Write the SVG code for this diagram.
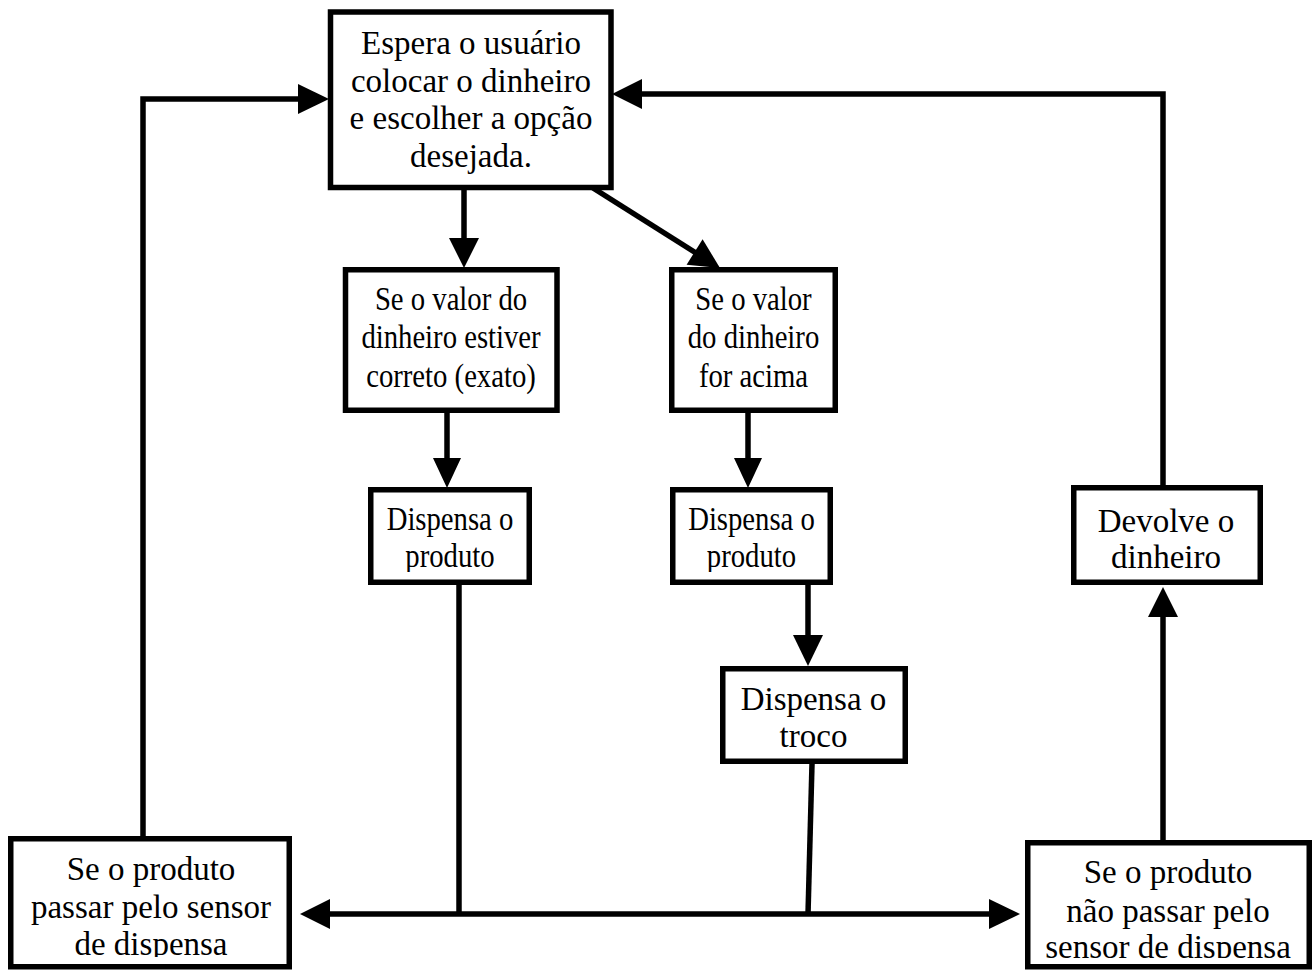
<svg xmlns="http://www.w3.org/2000/svg" width="1313" height="970" viewBox="0 0 1313 970">
<style>
.box{fill:#fff;stroke:#000;stroke-width:5.5}
.t{font-family:"Liberation Serif","Times New Roman",serif;font-size:33px;fill:#000;text-anchor:middle}
.ln{fill:none;stroke:#000;stroke-width:5.5;stroke-linejoin:miter;stroke-linecap:butt}
.ah{fill:#000;stroke:none}
</style>
<defs>
<clipPath id="cDL"><rect x="374" y="493" width="152" height="79"/></clipPath>
<clipPath id="cDR"><rect x="673" y="493" width="157" height="79"/></clipPath>
<clipPath id="cBL"><rect x="11" y="842" width="278" height="115"/></clipPath>
<clipPath id="cBR"><rect x="1031" y="843" width="276" height="115"/></clipPath>
</defs>
<rect width="1313" height="970" fill="#fff"/>
<g id="connectors">
<polyline class="ln" points="143,836 143,99 300,99"/>
<polygon class="ah" points="329,99 298,84 298,114"/>
<polyline class="ln" points="1163,485 1163,94 640,94"/>
<polygon class="ah" points="612,94 642,79 642,109"/>
<line class="ln" x1="464" y1="190" x2="464" y2="240"/>
<polygon class="ah" points="464,268 449,238 479,238"/>
<line class="ln" x1="593" y1="188" x2="696" y2="253"/>
<polygon class="ah" points="720,268 686.6,264.7 702.6,239.3"/>
<line class="ln" x1="447" y1="413" x2="447" y2="460"/>
<polygon class="ah" points="447,488 433,458 461,458"/>
<line class="ln" x1="748" y1="413" x2="748" y2="460"/>
<polygon class="ah" points="748,488 734,458 762,458"/>
<line class="ln" x1="808" y1="585" x2="808" y2="637"/>
<polygon class="ah" points="808,666 793,635 823,635"/>
<line class="ln" x1="459" y1="585" x2="459" y2="914"/>
<line class="ln" x1="812" y1="764" x2="808" y2="914"/>
<line class="ln" x1="328" y1="914" x2="991" y2="914"/>
<polygon class="ah" points="300,914 330,899 330,929"/>
<polygon class="ah" points="1020,914 989,899 989,929"/>
<line class="ln" x1="1163" y1="840" x2="1163" y2="615"/>
<polygon class="ah" points="1163,587 1148,617 1178,617"/>
</g>
<g id="n-espera">
<rect class="box" x="330.5" y="12" width="280.5" height="175.5"/>
<text class="t" x="471" y="54">Espera o usuário</text>
<text class="t" x="471" y="91.5">colocar o dinheiro</text>
<text class="t" x="471" y="129">e escolher a opção</text>
<text class="t" x="471" y="166.5">desejada.</text>
</g>
<g id="n-exato">
<rect class="box" x="345.5" y="269.75" width="211.5" height="140.5"/>
<g transform="translate(451,0) scale(0.87,1)">
<text class="t" x="0" y="310">Se o valor do</text>
<text class="t" x="0" y="348.5">dinheiro estiver</text>
<text class="t" x="0" y="387">correto (exato)</text>
</g>
</g>
<g id="n-acima">
<rect class="box" x="671.75" y="269.75" width="163.5" height="140.5"/>
<g transform="translate(753.5,0) scale(0.87,1)">
<text class="t" x="0" y="310">Se o valor</text>
<text class="t" x="0" y="348.5">do dinheiro</text>
<text class="t" x="0" y="387">for acima</text>
</g>
</g>
<g id="n-dispensa1">
<rect class="box" x="370.75" y="489.75" width="158.5" height="92.5"/>
<g clip-path="url(#cDL)">
<g transform="translate(450,0) scale(0.87,1)">
<text class="t" x="0" y="530">Dispensa o</text>
<text class="t" x="0" y="567">produto</text>
</g>
</g>
</g>
<g id="n-dispensa2">
<rect class="box" x="672.75" y="489.75" width="157.5" height="92.5"/>
<g clip-path="url(#cDR)">
<g transform="translate(751.5,0) scale(0.87,1)">
<text class="t" x="0" y="530">Dispensa o</text>
<text class="t" x="0" y="567">produto</text>
</g>
</g>
</g>
<g id="n-troco">
<rect class="box" x="722.75" y="668.75" width="182.5" height="92.5"/>
<text class="t" x="813.5" y="710">Dispensa o</text>
<text class="t" x="813.5" y="747">troco</text>
</g>
<g id="n-devolve">
<rect class="box" x="1073.75" y="487.75" width="186.5" height="94.5"/>
<text class="t" x="1166" y="532">Devolve o</text>
<text class="t" x="1166" y="568">dinheiro</text>
</g>
<g id="n-passou">
<rect class="box" x="10.75" y="838.75" width="278.5" height="128"/>
<g clip-path="url(#cBL)">
<text class="t" x="151" y="880">Se o produto</text>
<text class="t" x="151" y="918">passar pelo sensor</text>
<text class="t" x="151" y="955">de dispensa</text>
</g>
</g>
<g id="n-naopassou">
<rect class="box" x="1027.75" y="842.75" width="281.5" height="124"/>
<g clip-path="url(#cBR)">
<text class="t" x="1168" y="883">Se o produto</text>
<text class="t" x="1168" y="922">não passar pelo</text>
<text class="t" x="1168" y="958">sensor de dispensa</text>
</g>
</g>
</svg>
